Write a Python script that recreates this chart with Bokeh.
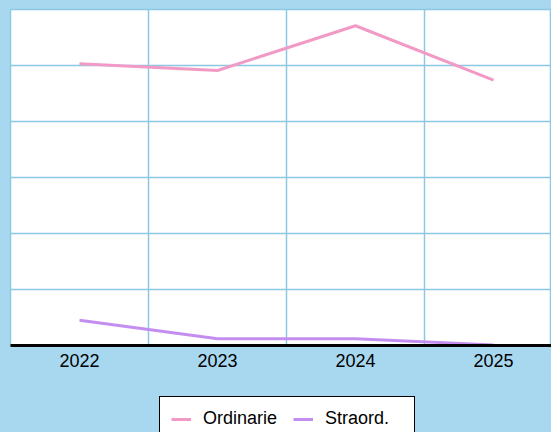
from bokeh.plotting import figure
from bokeh.models import Range1d, FixedTicker, Legend, LegendItem
from bokeh.layouts import column
from bokeh.embed import file_html
from bokeh.resources import INLINE

years = ["2022", "2023", "2024", "2025"]
ordinarie = [503, 491, 571, 474]
straord = [45, 12, 12, 1]
grid_y = [100, 200, 300, 400, 500, 600]
series_names = ["Ordinarie", "Straord."]

BG = "#a8d8f0"
GRID = "#8cc8e4"
PINK = "#f29ac6"
PURPLE = "#c48ef0"

xs = list(range(len(years)))

p = figure(width=551, height=380, output_backend="svg", toolbar_location=None,
           x_range=Range1d(-0.5, 3.42), y_range=Range1d(0, 600),
           min_border_left=10, min_border_right=0, min_border_top=9, min_border_bottom=35)
p.background_fill_color = "white"
p.border_fill_color = BG
p.outline_line_color = GRID
p.outline_line_width = 1.5

p.yaxis.visible = False
p.xaxis.ticker = FixedTicker(ticks=xs)
p.xaxis.major_label_overrides = {i: y for i, y in enumerate(years)}
p.xaxis.axis_line_color = "black"
p.xaxis.axis_line_width = 3
p.xaxis.major_tick_line_color = None
p.xaxis.minor_tick_line_color = None
p.xaxis.major_tick_out = 0
p.xaxis.major_tick_in = 0
p.xaxis.major_label_standoff = 8
p.xaxis.major_label_text_font = "Liberation Sans"
p.xaxis.major_label_text_font_size = "18px"
p.xaxis.major_label_text_color = "black"

p.xgrid.ticker = FixedTicker(ticks=[0.5, 1.5, 2.5])
p.ygrid.ticker = FixedTicker(ticks=grid_y)
p.xgrid.grid_line_color = GRID
p.ygrid.grid_line_color = GRID
p.xgrid.grid_line_width = 1.5
p.ygrid.grid_line_width = 1.5

p.line(xs, ordinarie, line_color=PINK, line_width=3)
p.line(xs, straord, line_color=PURPLE, line_width=3)

# legend strip below the chart (its lines lie outside its own visible range)
lg = figure(width=551, height=52, output_backend="svg", toolbar_location=None,
            x_range=Range1d(0, 1), y_range=Range1d(-1000, -999),
            x_axis_type=None, y_axis_type=None,
            min_border_left=0, min_border_right=0, min_border_top=0, min_border_bottom=0)
lg.background_fill_color = BG
lg.border_fill_color = BG
lg.outline_line_color = None
lg.grid.visible = False
d1 = lg.line(xs, ordinarie, line_color=PINK, line_width=3)
d2 = lg.line(xs, straord, line_color=PURPLE, line_width=3)

legend = Legend(items=[LegendItem(label=series_names[0], renderers=[d1]),
                       LegendItem(label=series_names[1], renderers=[d2])],
                orientation="horizontal", location=(149, -9))
legend.label_text_font = "Liberation Sans"
legend.label_text_font_size = "18px"
legend.label_text_color = "black"
legend.border_line_color = "black"
legend.border_line_alpha = 1
legend.border_line_width = 1.5
legend.background_fill_color = "white"
legend.background_fill_alpha = 1
legend.glyph_width = 20
legend.glyph_height = 20
legend.label_width = 78
legend.label_standoff = 12
legend.spacing = 12
legend.padding = 11
legend.margin = 0
lg.add_layout(legend, "center")

layout = column(p, lg, spacing=0)
layout.styles = {"background-color": BG}

html = file_html(layout, INLINE)
html = html.replace("<body>", '<body style="background:%s">' % BG, 1)
open("out.html", "w").write(html)
